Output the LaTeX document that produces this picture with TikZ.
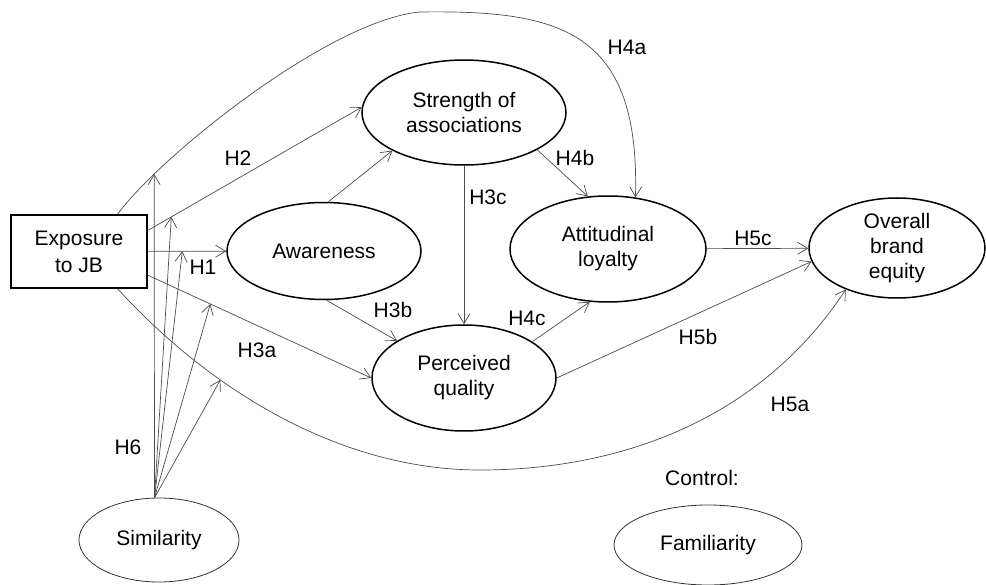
\documentclass[tikz,border=0pt]{standalone}
\usepackage{fontspec}
\setmainfont{Liberation Sans}
\usetikzlibrary{arrows.meta,shapes.geometric,calc}
\begin{document}
\begin{tikzpicture}[x=1pt,y=-1pt,
  font=\fontsize{21}{25}\selectfont,
  lat/.style={ellipse, draw=black, line width=1.5pt, inner sep=0pt, align=center},
  ctl/.style={ellipse, draw=black!80, line width=0.8pt, inner sep=0pt, align=center},
  conn/.style={draw=black!70, line width=0.7pt, -{Straight Barb[length=10pt,width=12pt]}},
  lbl/.style={inner sep=0pt}]
\useasboundingbox (0,0) rectangle (986,585);

% nodes
\node[draw=black, line width=1.5pt, minimum width=136pt, minimum height=73pt, align=center, inner sep=0pt] (ex) at (79,251.5) {Exposure\\[2pt]to JB};
\node[lat, minimum width=194pt, minimum height=97pt] (aw) at (324,251) {Awareness};
\node[lat, minimum width=204pt, minimum height=105pt] (st) at (464,112.5) {Strength of\\associations};
\node[lat, minimum width=184pt, minimum height=106pt] (pq) at (464,378) {Perceived\\quality};
\node[lat, minimum width=196pt, minimum height=106pt] (al) at (608,249) {Attitudinal\\loyalty};
\node[lat, minimum width=176pt, minimum height=100pt] (ob) at (897,248) {Overall\\brand\\equity};
\node[ctl, minimum width=160pt, minimum height=84pt] (si) at (159,540) {Similarity};
\node[ctl, minimum width=188pt, minimum height=80pt] (fa) at (708,545) {Familiarity};
\node[lbl] (ctrl) at (702,478) {Control:};

% connectors
\draw[conn] (ex.44) .. controls (160,156) and (330,20) .. (420,12) coordinate[pos=0.19] (m4a)
   .. controls (560,10) and (640,30) .. (al.62);
\draw[conn] (ex.17) -- coordinate[pos=0.11] (m2) (st.177);
\draw[conn] (ex) -- coordinate[pos=0.44] (m1) (aw);
\draw[conn] (ex.-19) -- coordinate[pos=0.28] (m3a) (pq.west);
\draw[conn] (ex.-44) .. controls (210,390) and (340,470) .. (480,470) coordinate[pos=0.33] (m5a)
   .. controls (620,470) and (760,420) .. (ob.219);

\draw[conn] (aw.85) -- (st.208);
\draw[conn] (aw.-87) -- (pq.151);
\draw[conn] (st) -- (pq);
\draw[conn] (st.-27) -- (al.111);
\draw[conn] (pq.28) -- (al.251);
\draw[conn] (al) -- (ob);
\draw[conn] (pq.east) -- (ob.189);

% moderation H6
\coordinate (s6) at (si.96);
\draw[conn] (s6) -- (m4a);
\draw[conn] (s6) -- (m2);
\draw[conn] (s6) -- (m1);
\draw[conn] (s6) -- (m3a);
\draw[conn] (s6) -- (m5a);

% labels
\node[lbl] (l4a) at (627,47) {H4a};
\node[lbl] (l2) at (238,158) {H2};
\node[lbl] (l1) at (203,267) {H1};
\node[lbl] (l3a) at (257,350) {H3a};
\node[lbl] (l3b) at (393,310) {H3b};
\node[lbl] (l3c) at (488,197) {H3c};
\node[lbl] (l4b) at (575,158) {H4b};
\node[lbl] (l4c) at (527,318) {H4c};
\node[lbl] (l5b) at (698,337) {H5b};
\node[lbl] (l5c) at (753,238) {H5c};
\node[lbl] (l5a) at (790,404) {H5a};
\node[lbl] (l6) at (128,447) {H6};
\end{tikzpicture}
\end{document}
